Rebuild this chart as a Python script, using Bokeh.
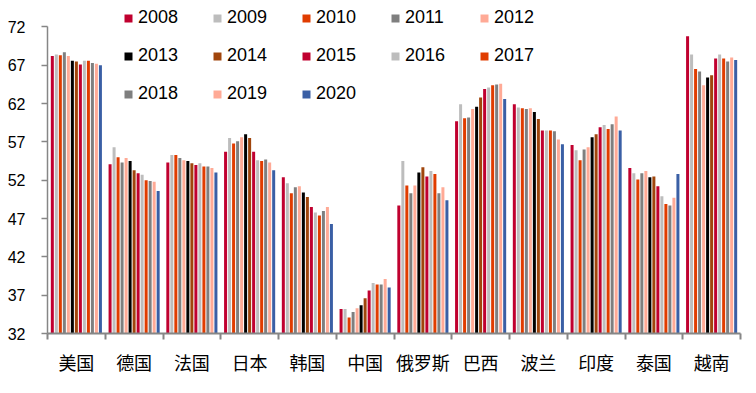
from bokeh.plotting import figure
from bokeh.models import FixedTicker, Range1d, Legend, LegendItem, ColumnDataSource
from bokeh.embed import file_html
from bokeh.resources import INLINE

countries = ["美国", "德国", "法国", "日本", "韩国", "中国", "俄罗斯", "巴西", "波兰", "印度", "泰国", "越南"]
years = ["2008", "2009", "2010", "2011", "2012", "2013", "2014", "2015", "2016", "2017", "2018", "2019", "2020"]

usa = [68.2, 68.4, 68.3, 68.7, 68.2, 67.6, 67.5, 67.1, 67.6, 67.6, 67.3, 67.2, 67.0]
germany = [54.1, 56.3, 55.0, 54.3, 54.9, 54.5, 53.3, 52.9, 52.7, 52.0, 51.9, 51.8, 50.6]
france = [54.3, 55.3, 55.3, 54.9, 54.6, 54.5, 54.2, 54.0, 54.2, 53.8, 53.8, 53.6, 53.0]
japan = [55.7, 57.5, 56.8, 57.1, 57.6, 58.0, 57.5, 55.7, 54.6, 54.5, 54.7, 54.3, 53.3]
korea = [52.4, 51.6, 50.3, 51.1, 51.2, 50.4, 49.8, 48.5, 47.8, 47.4, 48.0, 48.5, 46.3]
china = [35.2, 35.2, 34.1, 34.8, 35.3, 35.7, 36.6, 37.6, 38.6, 38.4, 38.4, 39.1, 38.0]
russia = [48.7, 54.5, 51.3, 50.3, 51.3, 53.0, 53.7, 52.5, 53.2, 52.8, 50.3, 51.1, 49.4]
brazil = [59.7, 61.9, 60.1, 60.2, 61.3, 61.6, 62.8, 63.9, 64.1, 64.4, 64.5, 64.6, 62.6]
poland = [61.9, 61.5, 61.4, 61.3, 61.4, 60.9, 60.0, 58.5, 58.5, 58.5, 58.4, 57.3, 56.7]
india = [56.6, 55.9, 54.6, 56.0, 56.3, 57.6, 58.0, 58.9, 59.2, 58.7, 59.3, 60.3, 58.5]
thailand = [53.6, 52.9, 52.1, 52.9, 53.2, 52.4, 52.5, 51.2, 49.9, 48.9, 48.7, 49.7, 52.8]
vietnam = [70.8, 68.4, 66.5, 66.2, 64.4, 65.4, 65.7, 67.9, 68.4, 67.9, 67.5, 68.0, 67.7]

y_ticks = [32, 37, 42, 47, 52, 57, 62, 67, 72]

colors = ["#C0002F", "#BDBDBD", "#E03C00", "#7F7F7F", "#FFAA96", "#000000", "#A0450C",
          "#C0002F", "#BDBDBD", "#E03C00", "#7F7F7F", "#FFAA96", "#3A5FA5"]

series = [usa, germany, france, japan, korea, china, russia, brazil, poland, india, thailand, vietnam]

p = figure(width=748, height=385, output_backend="svg", toolbar_location=None,
           x_range=Range1d(0, 12), y_range=Range1d(32, 74.8),
           min_border_left=47, min_border_right=8, min_border_top=5, min_border_bottom=52)
p.outline_line_color = None
p.xgrid.visible = False
p.ygrid.visible = False
p.background_fill_color = None
p.border_fill_color = "white"

step = 0.0694
bw = 0.052
items = []
for j, yr in enumerate(years):
    xs = [i + 0.5 + (j - 6) * step for i in range(len(countries))]
    tops = [s[j] for s in series]
    src = ColumnDataSource(dict(x=xs, top=tops))
    r = p.vbar(x="x", top="top", bottom=32, width=bw, source=src,
               fill_color=colors[j], line_color=None)
    items.append(LegendItem(label=yr, renderers=[r]))

legend = Legend(items=items, location=(76, 229), orientation="horizontal", ncols=5,
                glyph_width=10, glyph_height=10, label_standoff=5, label_width=57,
                label_height=20, spacing=17, padding=0, margin=0,
                border_line_color=None, background_fill_alpha=0,
                label_text_font="Liberation Sans", label_text_font_size="18px",
                label_text_color="#000000")
p.add_layout(legend, "center")

p.xaxis.ticker = FixedTicker(ticks=[i + 0.5 for i in range(12)], minor_ticks=list(range(13)))
p.xaxis.major_label_overrides = {i + 0.5: c for i, c in enumerate(countries)}
p.xaxis.major_tick_out = 0
p.xaxis.major_tick_in = 0
p.xaxis.minor_tick_out = 6
p.xaxis.minor_tick_in = 0
p.xaxis.minor_tick_line_color = "#868686"
p.xaxis.minor_tick_line_width = 2
p.xaxis.axis_line_color = "#868686"
p.xaxis.axis_line_width = 2
p.xaxis.major_label_standoff = 9
p.xaxis.major_label_text_font = "Noto Sans CJK SC"
p.xaxis.major_label_text_font_size = "18px"
p.xaxis.major_label_text_color = "#000000"

p.yaxis.ticker = FixedTicker(ticks=y_ticks, minor_ticks=[])
p.yaxis.bounds = (32, 72)
p.yaxis.major_tick_out = 6
p.yaxis.major_tick_in = 0
p.yaxis.major_tick_line_color = "#868686"
p.yaxis.major_tick_line_width = 1.5
p.yaxis.axis_line_color = "#868686"
p.yaxis.axis_line_width = 1.5
p.yaxis.major_label_standoff = 16
p.yaxis.major_label_text_font = "Liberation Sans"
p.yaxis.major_label_text_font_size = "16px"
p.yaxis.major_label_text_color = "#000000"

open("out.html", "w").write(file_html(p, INLINE))
